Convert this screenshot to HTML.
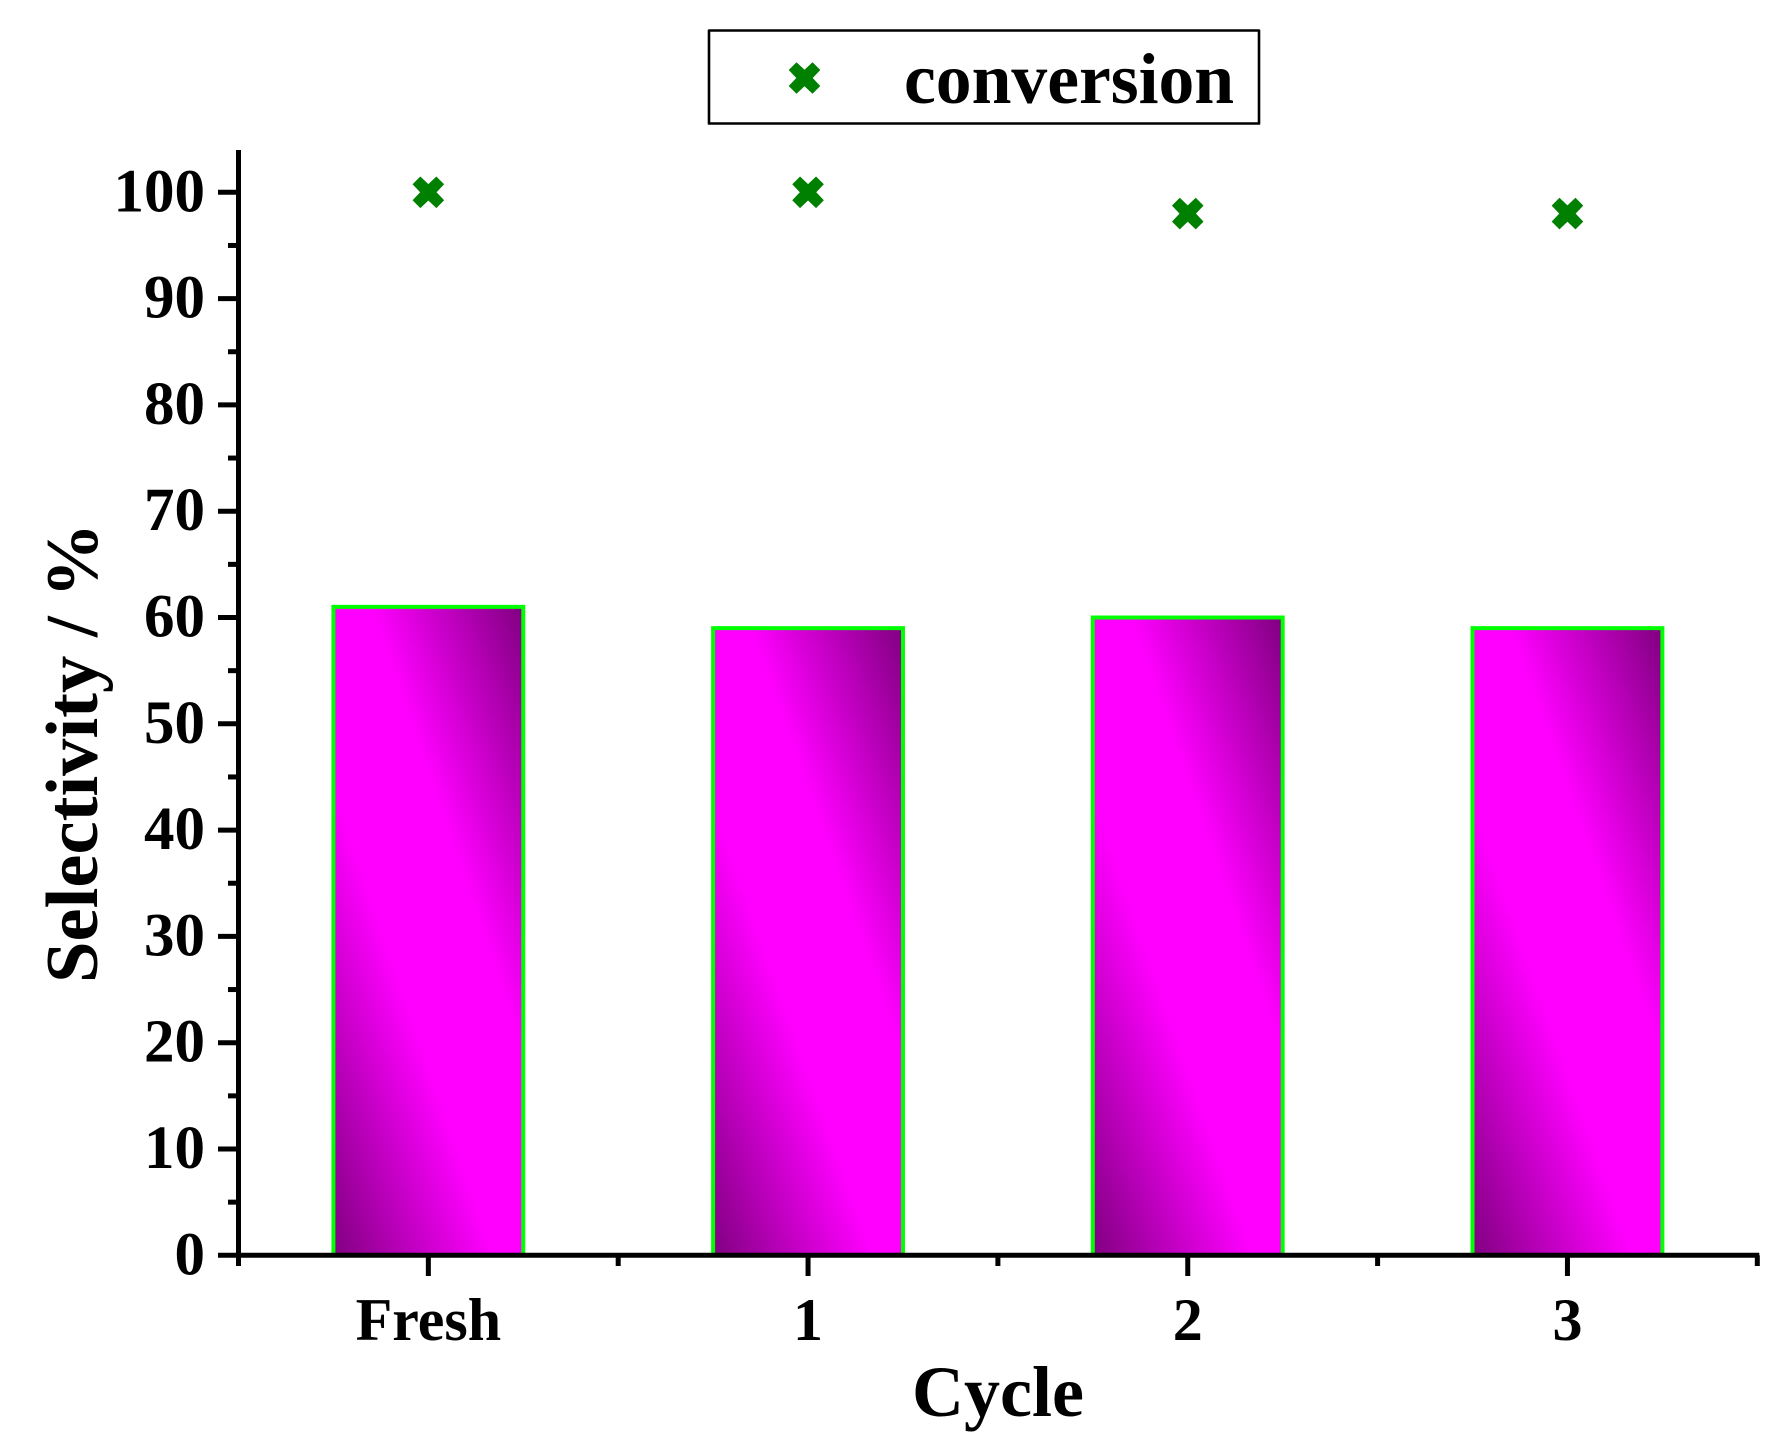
<!DOCTYPE html>
<html lang="en">
<head>
<meta charset="utf-8">
<title>Selectivity and conversion by cycle</title>
<style>
html,body{margin:0;padding:0;background:#fff;}
svg{display:block;}
text{font-family:"Liberation Serif",serif;font-weight:bold;fill:#000;}
</style>
</head>
<body>
<svg id="chart" width="1791" height="1444" viewBox="0 0 1791 1444" xmlns="http://www.w3.org/2000/svg">
  <defs>
    <linearGradient id="barFill" x1="0" y1="1" x2="0.914" y2="-0.073">
      <stop offset="0" stop-color="#800080"/>
      <stop offset="0.39" stop-color="#ff00ff"/>
      <stop offset="0.63" stop-color="#ff00ff"/>
      <stop offset="1" stop-color="#800080"/>
    </linearGradient>
  </defs>
  <rect x="0" y="0" width="1791" height="1444" fill="#fff"/>
  <g id="bars"></g>
  <g id="axes"></g>
  <g id="points"></g>
  <text transform="translate(97,753) rotate(-90)" text-anchor="middle" font-size="74.6">Selectivity / %</text>
  <text x="998" y="1416" text-anchor="middle" font-size="72">Cycle</text>
  <g>
    <rect x="709" y="30.5" width="550" height="93" fill="#fff" stroke="#000" stroke-width="2.6" stroke-linejoin="round"/>
    <polygon transform="translate(804.5,78)" fill="#008000" points="-8,-15.8 0,-8.2 8,-15.8 15.8,-8 8.2,0 15.8,8 8,15.8 0,8.2 -8,15.8 -15.8,8 -8.2,0 -15.8,-8"/>
    <text x="904" y="103" font-size="71.6">conversion</text>
  </g>
</svg>
<script>
const categories = ["Fresh", "1", "2", "3"];
const selectivity = [61, 59, 60, 59];
const conversion = [100, 100, 98, 98];
const yTickValues = [0, 10, 20, 30, 40, 50, 60, 70, 80, 90, 100];
const yMinorValues = [5, 15, 25, 35, 45, 55, 65, 75, 85, 95];

const NS = "http://www.w3.org/2000/svg";
const plotLeft = 238.5, plotRight = 1757.3, plotBottom = 1255.3, plotTop = 150;
const yMax = 103.98;
const barWidthFrac = 0.5;

function xScale(pos) {
  return plotLeft + (pos + 0.5) / categories.length * (plotRight - plotLeft);
}
function yScale(v) {
  return plotBottom - v / yMax * (plotBottom - plotTop);
}
function make(tag, attrs, parent) {
  const el = document.createElementNS(NS, tag);
  for (const k in attrs) el.setAttribute(k, attrs[k]);
  parent.appendChild(el);
  return el;
}

const barsG = document.getElementById("bars");
const axesG = document.getElementById("axes");
const pointsG = document.getElementById("points");
const band = (plotRight - plotLeft) / categories.length;

selectivity.forEach(function (v, i) {
  const w = band * barWidthFrac;
  const bar = make("rect", {
    x: xScale(i) - w / 2, y: yScale(v), width: w, height: yScale(0) - yScale(v),
    fill: "url(#barFill)", stroke: "#00ff00", "stroke-width": 4
  }, barsG);
  
  
});

const yAxis = make("line", { x1: plotLeft, x2: plotLeft, y1: plotTop, y2: plotBottom + 2.3, stroke: "#000", "stroke-width": 5 }, axesG);



const xAxis = make("line", { x1: plotLeft, x2: plotRight + 2, y1: plotBottom, y2: plotBottom, stroke: "#000", "stroke-width": 5 }, axesG);



yTickValues.forEach(function (v) {
  const y = yScale(v);
  const tick = make("line", { x1: 218, x2: plotLeft, y1: y, y2: y, stroke: "#000", "stroke-width": 5 }, axesG);
  
  
  const label = make("text", { x: 205, y: y + 19, "text-anchor": "end", "font-size": 61 }, axesG);
  label.textContent = String(v);
  
  
});

yMinorValues.forEach(function (v) {
  const y = yScale(v);
  const tick = make("line", { x1: 228, x2: plotLeft, y1: y, y2: y, stroke: "#000", "stroke-width": 5 }, axesG);
  
  
});

categories.forEach(function (c, i) {
  const x = xScale(i);
  const tick = make("line", { x1: x, x2: x, y1: plotBottom, y2: 1276, stroke: "#000", "stroke-width": 5 }, axesG);
  
  
  const label = make("text", { x: x, y: 1340, "text-anchor": "middle", "font-size": 60 }, axesG);
  label.textContent = c;
  
  
});

for (let i = 0; i <= categories.length; i++) {
  const x = xScale(i - 0.5);
  const tick = make("line", { x1: x, x2: x, y1: plotBottom, y2: 1266, stroke: "#000", "stroke-width": 5 }, axesG);
  
  
}

conversion.forEach(function (v, i) {
  const mark = make("polygon", {
    transform: "translate(" + xScale(i) + "," + yScale(v) + ")",
    fill: "#008000",
    points: "-8,-15.8 0,-8.2 8,-15.8 15.8,-8 8.2,0 15.8,8 8,15.8 0,8.2 -8,15.8 -15.8,8 -8.2,0 -15.8,-8"
  }, pointsG);
  
  
});
</script>
</body>
</html>
